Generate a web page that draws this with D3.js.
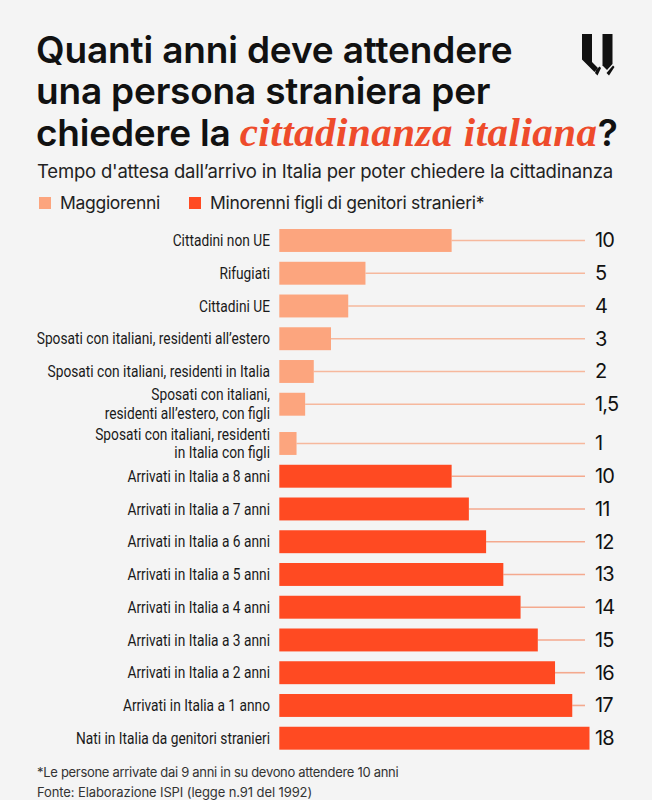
<!DOCTYPE html>
<html>
<head>
<meta charset="utf-8">
<script src="https://cdn.jsdelivr.net/npm/d3@7"></script>
<style>
  html, body { margin: 0; padding: 0; background: #f4f4f4; }
  svg { display: block; }
</style>
</head>
<body>
<svg id="chart" width="652" height="800"></svg>
<script>
// ---- data ----
const categories = [
  "Cittadini non UE",
  "Rifugiati",
  "Cittadini UE",
  "Sposati con italiani, residenti all\u2019estero",
  "Sposati con italiani, residenti in Italia",
  "Sposati con italiani,|residenti all\u2019estero, con figli",
  "Sposati con italiani, residenti|in Italia con figli",
  "Arrivati in Italia a 8 anni",
  "Arrivati in Italia a 7 anni",
  "Arrivati in Italia a 6 anni",
  "Arrivati in Italia a 5 anni",
  "Arrivati in Italia a 4 anni",
  "Arrivati in Italia a 3 anni",
  "Arrivati in Italia a 2 anni",
  "Arrivati in Italia a 1 anno",
  "Nati in Italia da genitori stranieri"
];
const values = [10, 5, 4, 3, 2, 1.5, 1, 10, 11, 12, 13, 14, 15, 16, 17, 18];
const valueLabels = ["10", "5", "4", "3", "2", "1,5", "1", "10", "11", "12", "13", "14", "15", "16", "17", "18"];
const groups = ["Maggiorenni", "Maggiorenni", "Maggiorenni", "Maggiorenni", "Maggiorenni", "Maggiorenni", "Maggiorenni",
  "Minorenni", "Minorenni", "Minorenni", "Minorenni", "Minorenni", "Minorenni", "Minorenni", "Minorenni", "Minorenni"];
const legendLabels = ["Maggiorenni", "Minorenni figli di genitori stranieri*"];
const legendKeys = ["Maggiorenni", "Minorenni"];
const xDomain = [0, 18];

const rows = categories.map((c, i) => ({ cat: c, idx: i, value: values[i], label: valueLabels[i], group: groups[i] }));

// ---- styles ----
const svg = d3.select("#chart");
const grot = "Inter, 'Liberation Sans', sans-serif";
const color = d3.scaleOrdinal().domain(legendKeys).range(["#fca57e", "#ff4a22"]);
const lineColor = d3.scaleOrdinal().domain(legendKeys).range(["#f6b89d", "#f4a98e"]);

svg.append("rect").attr("width", 652).attr("height", 800).attr("fill", "#f4f4f4");

// ---- title ----
const title = svg.append("g").attr("font-family", grot)
  .attr("font-weight", 600).attr("font-size", 37).attr("fill", "#111");
title.append("text").attr("x", 36).attr("y", 63).attr("letter-spacing", -0.15).text("Quanti anni deve attendere");
title.append("text").attr("x", 36).attr("y", 104).attr("letter-spacing", -0.2).text("una persona straniera per");
const t3 = title.append("text").attr("x", 36).attr("y", 146).attr("letter-spacing", -0.2);
t3.append("tspan").text("chiedere la ");
t3.append("tspan").attr("font-family", "'Liberation Serif', 'DejaVu Serif', serif")
  .attr("font-style", "italic").attr("font-weight", 700).attr("font-size", 41)
  .attr("letter-spacing", 0.5).attr("fill", "#ee4b2b").text("cittadinanza italiana");
t3.append("tspan").text("?");

// subtitle
svg.append("text").attr("x", 37).attr("y", 178)
  .attr("font-family", grot).attr("font-size", 18.5)
  .attr("letter-spacing", -0.2).attr("fill", "#222")
  .text("Tempo d'attesa dall\u2019arrivo in Italia per poter chiedere la cittadinanza");

// legend
const legendX = [39, 189];
const lg = svg.append("g").selectAll("g").data(legendKeys).join("g")
  .attr("transform", (d, i) => `translate(${legendX[i]},197)`);
lg.append("rect").attr("width", 12).attr("height", 12).attr("fill", d => color(d));
lg.append("text").attr("x", 21).attr("y", 12)
  .attr("font-family", grot).attr("font-size", 17.5)
  .attr("letter-spacing", -0.3).attr("fill", "#222")
  .text((d, i) => legendLabels[i]);

// logo (decorative)
const logo = svg.append("g").attr("fill", "#111");
logo.append("path").attr("d", "M582,34 H592 V62 L598,68 L594.5,72 L582,59.5 Z");
logo.append("path").attr("d", "M596,70 L599.5,66.5 L601,68 L597.5,75.5 L595,73 Z");
logo.append("path").attr("d", "M602.5,34 H612.5 V64 L607,70 L602.5,65.5 Z");
logo.append("path").attr("d", "M613,65.5 L614.5,67 L609,75.5 L606.5,73 Z");

// ---- scales ----
const x = d3.scaleLinear().domain(xDomain).range([279.3, 589.5]);
const y = d3.scaleBand().domain(categories).range([219.2, 753]).padding(0.3);
// the two-line labels of the last adult rows take a little more room
const extraGap = 6.5;
const yPos = d => y(d.cat) + (d.idx >= 6 ? extraGap : 0);
const yMid = d => yPos(d) + y.bandwidth() / 2;

// leader lines
svg.append("g").selectAll("line").data(rows.filter(d => d.value < xDomain[1])).join("line")
  .attr("x1", d => x(d.value)).attr("x2", 585)
  .attr("y1", yMid).attr("y2", yMid)
  .attr("stroke", d => lineColor(d.group)).attr("stroke-width", 1.6);

// bars
svg.append("g").selectAll("rect").data(rows).join("rect")
  .attr("x", x(0)).attr("y", yPos)
  .attr("width", d => x(d.value) - x(0)).attr("height", y.bandwidth())
  .attr("fill", d => color(d.group));

// category labels (condensed via horizontal squeeze)
const labels = svg.append("g")
  .attr("transform", "translate(270,0) scale(0.86,1)")
  .attr("font-family", "Roboto, 'Liberation Sans', sans-serif").attr("font-size", 16)
  .attr("fill", "#1a1a1a").attr("text-anchor", "end")
  .selectAll("text").data(rows).join("text")
  .attr("x", 0)
  .attr("y", yMid);
labels.each(function (d) {
  const parts = d.cat.split("|");
  const t = d3.select(this);
  const n = parts.length;
  parts.forEach((p, i) => {
    t.append("tspan").attr("x", 0)
      .attr("dy", i === 0 ? (n > 1 ? -3.9 : 5.6) : 18.9)
      .text(p);
  });
});

// value labels
svg.append("g").attr("font-family", grot).attr("font-size", 20)
  .attr("fill", "#111").attr("letter-spacing", -0.8)
  .selectAll("text").data(rows).join("text")
  .attr("x", 595).attr("y", d => yMid(d) + 7)
  .text(d => d.label);

// footnotes
const foot = svg.append("g").attr("font-family", grot)
  .attr("font-size", 13).attr("fill", "#333").attr("letter-spacing", -0.3);
foot.append("text").attr("x", 37).attr("y", 777).text("*Le persone arrivate dai 9 anni in su devono attendere 10 anni");
foot.append("text").attr("x", 37).attr("y", 797).attr("letter-spacing", -0.1).text("Fonte: Elaborazione ISPI (legge n.91 del 1992)");
</script>
</body>
</html>
